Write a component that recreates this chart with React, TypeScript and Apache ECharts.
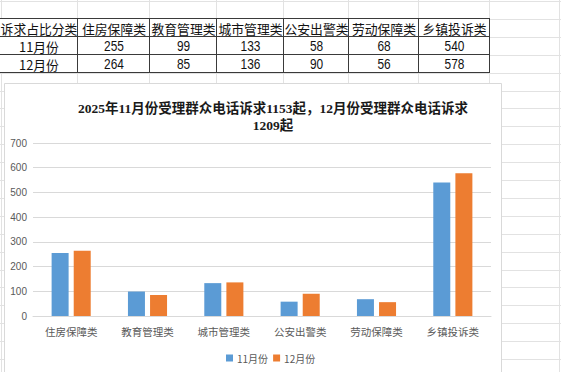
import React, { useEffect, useRef } from "react";
import * as echarts from "echarts";

const categories = ["住房保障类", "教育管理类", "城市管理类", "公安出警类", "劳动保障类", "乡镇投诉类"];
const novValues = [255, 99, 133, 58, 68, 540];
const decValues = [264, 85, 136, 90, 56, 578];
const seriesNames = ["11月份", "12月份"];
const tableHeader = "诉求占比分类";
const titleLines = ["2025年11月份受理群众电话诉求1153起，12月份受理群众电话诉求", "1209起"];
const yMax = 700;
const yInterval = 100;

const BLUE = "#5B9BD5";
const ORANGE = "#ED7D31";
const W = 561;
const H = 372;

const colEdges = [-1, 77, 149, 216, 283, 348, 418, 489];
const rowEdges = [18, 36, 54, 72];
const sheetCols = [1, 77, 149, 216, 283, 348, 418, 489, 559];

function buildGraphics() {
  const g: any[] = [];
  // spreadsheet grid
  for (let k = 0; k < 22; k++) {
    const y = Math.round(1 + 17.9 * k) + 0.5;
    g.push({ type: "line", z: -20, silent: true, shape: { x1: 0, y1: y, x2: W, y2: y }, style: { stroke: "#e2e2e2", lineWidth: 1 } });
  }
  sheetCols.forEach((x) => {
    g.push({ type: "line", z: -20, silent: true, shape: { x1: x + 0.5, y1: 0, x2: x + 0.5, y2: H }, style: { stroke: "#e2e2e2", lineWidth: 1 } });
  });
  // table background
  g.push({ type: "rect", z: -15, silent: true, shape: { x: 0, y: rowEdges[0], width: colEdges[colEdges.length - 1], height: rowEdges[3] - rowEdges[0] }, style: { fill: "#ffffff" } });
  // table borders
  rowEdges.forEach((y) => {
    g.push({ type: "line", z: -14, silent: true, shape: { x1: 0, y1: y + 0.5, x2: colEdges[colEdges.length - 1] + 1, y2: y + 0.5 }, style: { stroke: "#3a3a3a", lineWidth: 1 } });
  });
  colEdges.forEach((x) => {
    g.push({ type: "line", z: -14, silent: true, shape: { x1: x + 0.5, y1: rowEdges[0], x2: x + 0.5, y2: rowEdges[3] + 1 }, style: { stroke: "#3a3a3a", lineWidth: 1 } });
  });
  const rows = [
    [tableHeader, ...categories],
    [seriesNames[0], ...novValues.map(String)],
    [seriesNames[1], ...decValues.map(String)],
  ];
  rows.forEach((row, r) => {
    row.forEach((txt, c) => {
      const cx = (colEdges[c] + colEdges[c + 1]) / 2 + 1;
      const cy = (rowEdges[r] + rowEdges[r + 1]) / 2 + 1;
      const isNum = /^[0-9]+$/.test(txt);
      g.push({
        type: "text", z: -13, silent: true, x: cx, y: cy,
        scaleX: isNum ? 0.85 : 1,
        style: {
          text: txt, fill: "#111111", align: "center", verticalAlign: "middle",
          font: isNum ? "14px 'Liberation Sans','Noto Sans CJK SC'" : "12.8px 'Noto Sans CJK SC'",
        },
      });
    });
  });
  // chart area
  g.push({ type: "rect", z: -12, silent: true, shape: { x: 4.5, y: 83.5, width: 497, height: 300 }, style: { fill: "#ffffff", stroke: "#d9d9d9", lineWidth: 1 } });
  // title
  titleLines.forEach((t, i) => {
    g.push({
      type: "text", z: 5, silent: true, x: 273, y: 108 + i * 17,
      style: {
        text: t, fill: "#1a1a1a", align: "center", verticalAlign: "middle",
        font: "bold 13.5px 'Liberation Serif','Noto Sans CJK SC'",
      },
    });
  });
  return g;
}

export default function App() {
  const ref = useRef<HTMLDivElement>(null);
  useEffect(() => {
    document.body.style.margin = "0";
    const chart = echarts.init(ref.current!, undefined, { renderer: "svg" });
    chart.setOption({
      animation: false,
      backgroundColor: "#ffffff",
      graphic: { elements: buildGraphics() },
      grid: { left: 33, right: W - 491, top: 143, bottom: H - 316, containLabel: false },
      legend: {
        left: 226, top: 353, padding: 0,
        itemWidth: 7, itemHeight: 7, itemGap: 5,
        icon: "rect",
        textStyle: { color: "#595959", fontSize: 10, fontFamily: "'Noto Sans CJK SC'", padding: [0, 0, 0, -1] },
        data: seriesNames,
      },
      xAxis: {
        type: "category",
        data: categories,
        axisLine: { lineStyle: { color: "#d9d9d9" } },
        axisTick: { show: false },
        axisLabel: { color: "#595959", fontSize: 10.5, margin: 10, fontFamily: "'Noto Sans CJK SC'" },
      },
      yAxis: {
        type: "value",
        min: 0, max: yMax, interval: yInterval,
        axisLine: { show: false },
        axisTick: { show: false },
        splitLine: { lineStyle: { color: "#d9d9d9" } },
        axisLabel: { color: "#595959", fontSize: 10, margin: 6, fontFamily: "'Liberation Sans'" },
      },
      series: [
        { name: seriesNames[0], type: "bar", data: novValues, barWidth: 17, barGap: "30%", itemStyle: { color: BLUE } },
        { name: seriesNames[1], type: "bar", data: decValues, barWidth: 17, barGap: "30%", itemStyle: { color: ORANGE } },
      ],
    });
    return () => chart.dispose();
  }, []);
  return <div ref={ref} style={{ width: W, height: H, position: "absolute", left: 0, top: 0 }} />;
}
